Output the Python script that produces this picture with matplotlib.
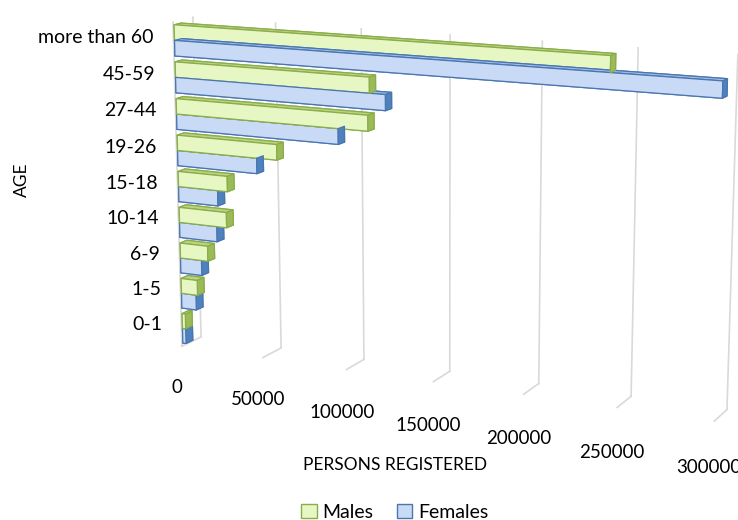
import matplotlib.pyplot as plt
import numpy as np
from matplotlib.patches import Patch

plt.rcParams["font.family"] = ["Lato", "DejaVu Sans"]

ages = ["0-1", "1-5", "6-9", "10-14", "15-18", "19-26", "27-44", "45-59", "more than 60"]
males = [2000, 10000, 17000, 29000, 30000, 60000, 113000, 114000, 243000]
females = [2000, 9000, 13000, 23000, 24000, 48000, 96000, 123000, 299000]
value_ticks = [0, 50000, 100000, 150000, 200000, 250000, 300000]

# face order in bar3d: bottom, top, front, back, left, right
green_faces = ["#b9d37f", "#b9d37f", "#e6f7c4", "#b9d37f", "#b9d37f", "#9bbb59"]
blue_faces = ["#9fbbe6", "#9fbbe6", "#c8daf5", "#9fbbe6", "#9fbbe6", "#4f81bd"]

fig = plt.figure(figsize=(7.38, 5.2), dpi=100)
ax = fig.add_axes([0.085, -0.133, 1.0, 1.42], projection="3d")
ax.set_proj_type("persp", focal_length=0.55)
ax.view_init(elev=13, azim=-65)

n = len(ages)
pos = np.arange(n)
bar_h = 0.42
y0, depth = 0.05, 0.35

x = np.zeros(2 * n)
y = np.full(2 * n, y0)
z = np.concatenate([pos + 0.5, pos + 0.5 - bar_h])
dx = np.array(males + females, dtype=float)
dy = np.full(2 * n, depth)
dz = np.full(2 * n, bar_h)
colors = green_faces * n + blue_faces * n
edges = ["#8aad4a"] * (6 * n) + ["#4a76b0"] * (6 * n)
ax.bar3d(x, y, z, dx, dy, dz, color=colors, edgecolor=edges, linewidth=0.9, shade=False)

# back wall and floor gridlines
for v in value_ticks:
    ax.plot([v, v], [1, 1], [0, n], color="#d9d9d9", lw=1.2, zorder=0)
    ax.plot([v, v], [0, 1], [0, 0], color="#d9d9d9", lw=1.2, zorder=0)
    ax.text(v, -0.3, -1.1, str(v), ha="center", va="center", fontsize=13.5)
ax.plot([0, 0], [0, 0], [0, n], color="#d9d9d9", lw=1.2, zorder=0)

for p, age in zip(pos, ages):
    ax.text(-12000, 0, p + 0.55, age, ha="right", va="center", fontsize=14)

ax.set_xlim(0, 300000)
ax.set_ylim(0, 1)
ax.set_zlim(0, n)
ax.set_box_aspect((6.05, 0.4, 3.55), zoom=0.905)
ax.set_axis_off()
for artist in ax.get_children():
    artist.set_clip_on(False)

fig.text(0.03, 0.655, "AGE", rotation=90, ha="center", va="center", fontsize=12.5)
fig.text(0.535, 0.106, "PERSONS REGISTERED", ha="center", va="center", fontsize=12.5)
handles = [Patch(facecolor="#e6f7c4", edgecolor="#8aad4a", label="Males"),
           Patch(facecolor="#c8daf5", edgecolor="#4a76b0", label="Females")]
fig.legend(handles=handles, loc="lower center", ncol=2, frameon=False,
           bbox_to_anchor=(0.535, -0.035), handlelength=0.8, handleheight=0.8,
           handletextpad=0.3, columnspacing=1.2, fontsize=14)

fig.savefig("out.png", dpi=100)
